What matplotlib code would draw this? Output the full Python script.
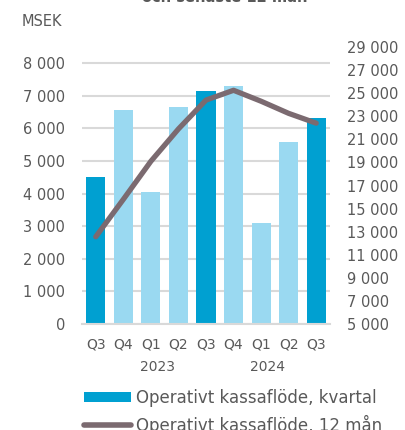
import matplotlib
matplotlib.use("Agg")
import matplotlib.pyplot as plt
from matplotlib.patches import Patch
from matplotlib.lines import Line2D

# data
quarters = ["Q3", "Q4", "Q1", "Q2", "Q3", "Q4", "Q1", "Q2", "Q3"]
years = ["2023", "2024"]
year_start = [2, 6]  # index of Q1 for each year
kvartal = [4510, 6570, 4050, 6650, 7160, 7300, 3100, 5580, 6330]
tolv_man = [12560, 15800, 19100, 21900, 24400, 25250, 24300, 23250, 22400]
left_ticks = list(range(0, 8001, 1000))
right_ticks = list(range(5000, 29001, 2000))

dark = "#00A0D1"
light = "#9AD9F1"
line_col = "#7B6A70"
txt = "#595959"
grid_col = "#D9D9D9"

def fmt(v):
    return f"{v:,}".replace(",", " ")

W, H = 406, 430
fig = plt.figure(figsize=(W / 100, H / 100), dpi=100)
ax = fig.add_axes([82 / W, (H - 324) / H, 248 / W, 277 / H])
ax2 = ax.twinx()

x = list(range(len(quarters)))
colors = [dark if q == "Q3" else light for q in quarters]
ax.bar(x, kvartal, width=0.69, color=colors, zorder=2)
ax.set_xlim(-0.5, len(quarters) - 0.5)
ax.set_ylim(0, 8500)
ax.set_yticks(left_ticks)
ax.set_yticklabels([fmt(v) for v in left_ticks])
ax.yaxis.grid(True, color=grid_col, linewidth=1.5, zorder=0)
ax.set_axisbelow(True)
ax.set_xticks(x)
ax.set_xticklabels(quarters)

ax2.plot(x, tolv_man, color=line_col, linewidth=3.8, solid_capstyle="round")
ax2.set_ylim(5000, 29000)
ax2.set_yticks(right_ticks)
ax2.set_yticklabels([fmt(v) for v in right_ticks])

for a in (ax, ax2):
    for s in a.spines.values():
        s.set_visible(False)
    a.tick_params(length=0, labelsize=10.5, colors=txt)
ax.spines["bottom"].set_visible(True)
ax.spines["bottom"].set_color(grid_col)
ax.spines["bottom"].set_linewidth(1.5)
ax.tick_params(axis="y", pad=12)
ax.tick_params(axis="x", pad=10, labelsize=10)
ax2.tick_params(axis="y", pad=12)

for yr, i in zip(years, year_start):
    ax.text(i + 0.25, -0.13, yr, transform=ax.get_xaxis_transform(),
            ha="center", va="top", fontsize=10, color=txt)

fig.text(22 / W, 1 - 22 / H, "MSEK", fontsize=10.5, color=txt, va="center")
# title sits mostly above the canvas, only its lower edge shows
fig.text(225 / W, 1 + 2 / H, "och senaste 12 mån", fontsize=10.5,
         fontweight="bold", color=txt, ha="center", va="center")

handles = [Patch(facecolor=dark, edgecolor="none"),
           Line2D([0], [0], color=line_col, linewidth=4, solid_capstyle="round")]
labels = ["Operativt kassaflöde, kvartal", "Operativt kassaflöde, 12 mån"]
leg = fig.legend(handles, labels, loc="upper left",
                 bbox_to_anchor=(84 / W, 1 - 389 / H), frameon=False,
                 fontsize=12, handlelength=2.8, handleheight=0.6,
                 handletextpad=0.3, labelspacing=0.45, borderpad=0,
                 borderaxespad=0)
for t in leg.get_texts():
    t.set_color(txt)

fig.savefig("out.png", dpi=100)
